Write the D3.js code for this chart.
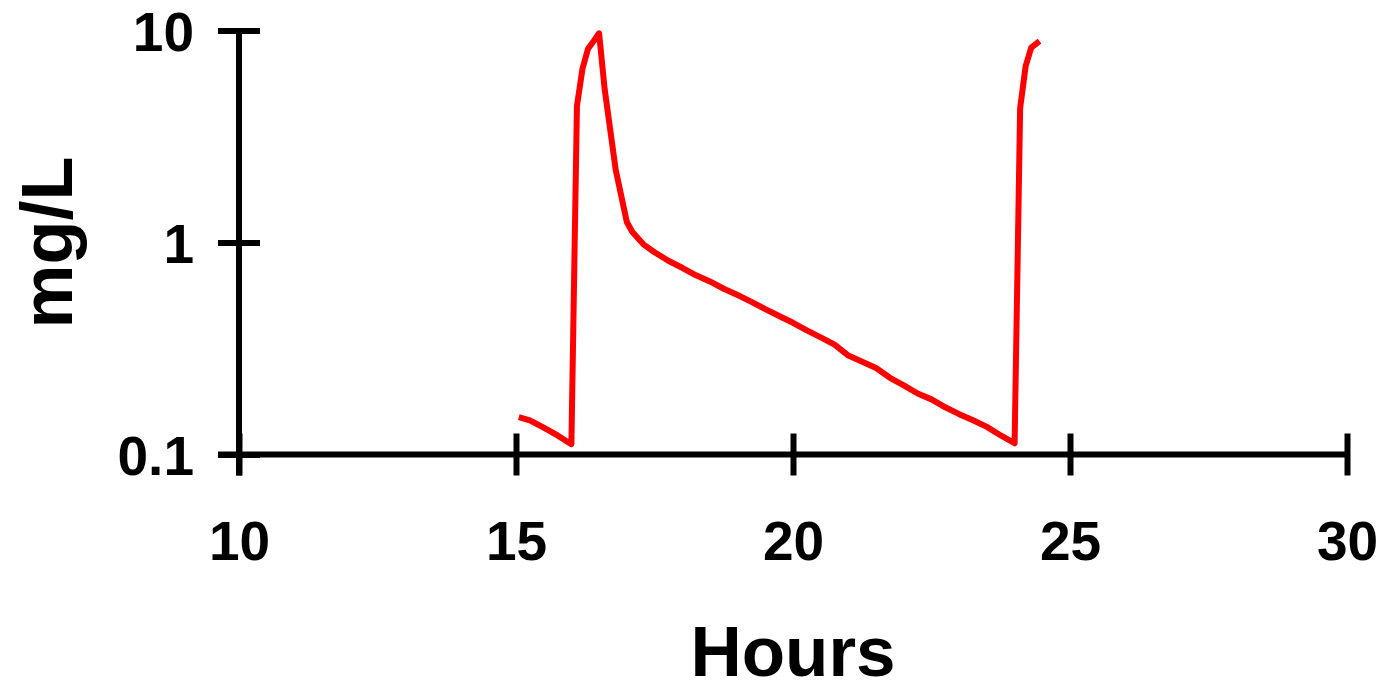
<!DOCTYPE html>
<html>
<head>
<meta charset="utf-8">
<script src="https://cdn.jsdelivr.net/npm/d3@7"></script>
<style>
  body { margin: 0; background: #fff; }
  text { font-family: Arial, "Liberation Sans", sans-serif; font-weight: bold; }
</style>
</head>
<body>
<div id="chart"></div>
<script>
// concentration readings (hours, mg/L)
const hours = [15.05, 15.25, 15.5, 15.75, 15.9, 16.0, 16.1, 16.2, 16.3, 16.4, 16.5, 16.6, 16.8, 17.0, 17.1,
  17.3, 17.5, 17.75, 18.0, 18.25, 18.5, 18.75, 19.0, 19.25, 19.5, 19.75, 20.0, 20.25, 20.5, 20.75,
  21.0, 21.25, 21.5, 21.75, 22.0, 22.25, 22.5, 22.75, 23.0, 23.25, 23.5, 23.75, 24.0, 24.1, 24.2, 24.3, 24.45];
const conc = [0.150, 0.145, 0.134, 0.123, 0.116, 0.112, 4.4, 6.6, 8.2, 8.9, 9.7, 5.3, 2.2, 1.25, 1.12,
  0.98, 0.90, 0.82, 0.76, 0.70, 0.655, 0.605, 0.565, 0.525, 0.485, 0.450, 0.418, 0.385, 0.357, 0.330,
  0.293, 0.274, 0.256, 0.230, 0.212, 0.194, 0.182, 0.167, 0.155, 0.145, 0.135, 0.123, 0.113, 4.3, 6.8, 8.3, 8.9];
const xTicks = [10, 15, 20, 25, 30];
const yTicks = [0.1, 1, 10];
const yTickLabels = ["0.1", "1", "10"];

const width = 1381, height = 683;

const svg = d3.select("#chart")
  .append("svg")
    .attr("width", width)
    .attr("height", height);

const x = d3.scaleLinear()
  .domain([10, 30])
  .range([239, 1347]);

const y = d3.scaleLog()
  .domain([0.1, 10])
  .range([454.5, 30.5]);

// x axis, ticks cross the line
const xAxis = svg.append("g")
  .attr("transform", `translate(0,${y(0.1)})`)
  .call(d3.axisBottom(x).tickValues(xTicks).tickSizeOuter(0).tickFormat(d3.format("d")));
xAxis.select(".domain").attr("stroke", "#000").attr("stroke-width", 6).attr("d", `M${x(10) - 21},0H${x(30)}`);
xAxis.selectAll(".tick line").attr("stroke", "#000").attr("stroke-width", 6).attr("y1", -21).attr("y2", 21);
xAxis.selectAll(".tick text")
  .attr("y", 560 - y(0.1))
  .attr("dy", 0)
  .attr("fill", "#000")
  .style("font-size", "55px");

// y axis
const yAxis = svg.append("g")
  .attr("transform", `translate(${x(10)},0)`)
  .call(d3.axisLeft(y).tickValues(yTicks).tickSizeOuter(0).tickFormat((d, i) => yTickLabels[i]));
yAxis.select(".domain").attr("stroke", "#000").attr("stroke-width", 6).attr("d", `M0,${y(10)}V${y(0.1) + 21}`);
yAxis.selectAll(".tick line").attr("stroke", "#000").attr("stroke-width", 6).attr("x1", -21).attr("x2", 21);
yAxis.selectAll(".tick text")
  .attr("x", -45)
  .attr("dy", "0.36em")
  .attr("fill", "#000")
  .style("font-size", "55px");

// titles
svg.append("text")
  .attr("x", (x(10) + x(30)) / 2)
  .attr("y", 676)
  .attr("text-anchor", "middle")
  .style("font-size", "71px")
  .text("Hours");

svg.append("text")
  .attr("transform", `translate(72,${y(1)})rotate(-90)`)
  .attr("text-anchor", "middle")
  .style("font-size", "72px")
  .text("mg/L");

const line = d3.line()
  .x((d, i) => x(hours[i]))
  .y(d => y(d));

svg.append("path")
  .datum(conc)
  .attr("fill", "none")
  .attr("stroke", "#ff0000")
  .attr("stroke-width", 6)
  .attr("stroke-linejoin", "round")
  .attr("d", line);
</script>
</body>
</html>
